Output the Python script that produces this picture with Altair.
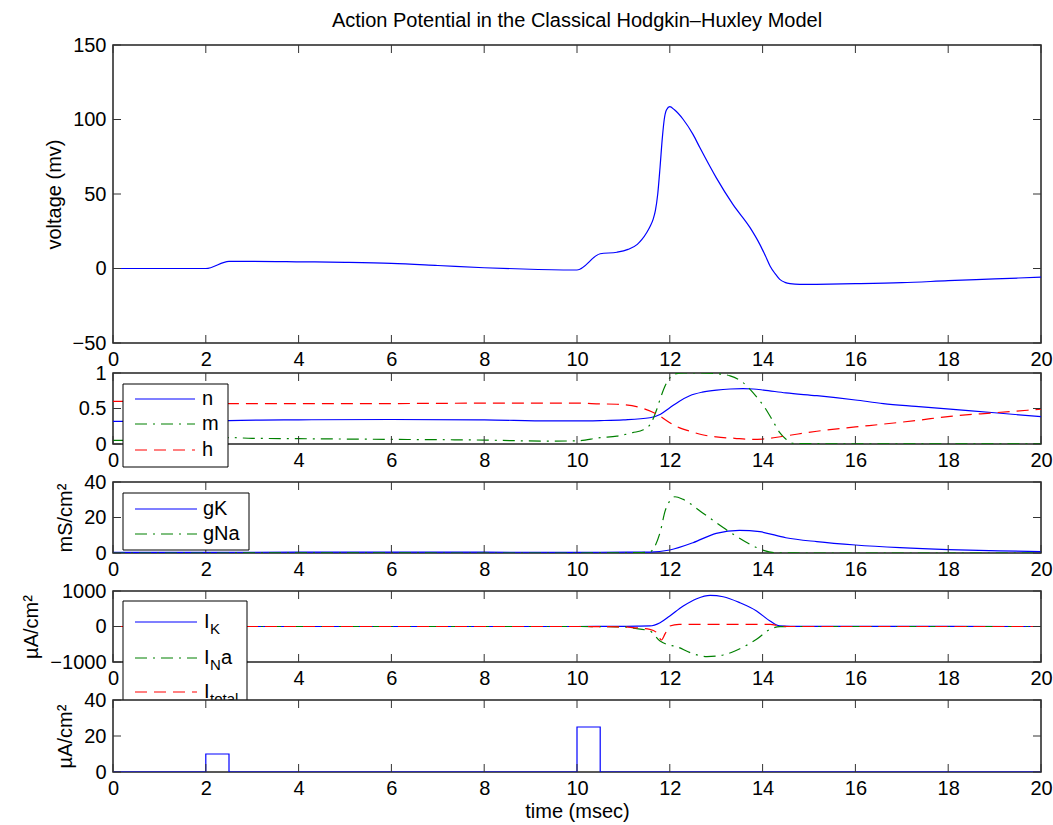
import altair as alt
import pandas as pd

FONT = "Liberation Sans"
FS = 20
W = 928
BLUE = "#0000ff"
GREEN = "#008000"
RED = "#ff0000"
DASH = [12, 7]
DASHDOT = [12, 6, 2, 6]

# ---------------- data ----------------
x_ticks = [0, 2, 4, 6, 8, 10, 12, 14, 16, 18, 20]

# panel 1: membrane voltage (mV)
t_v = [0, 2, 2.5, 3, 4, 5, 6, 7, 8, 9, 10, 10.5, 10.86, 11.1, 11.3, 11.4, 11.5,
       11.58, 11.64, 11.69, 11.74, 11.79, 11.84, 11.88, 11.93, 12.0, 12.1, 12.29,
       12.5, 12.65, 13.0, 13.36, 13.73, 13.94, 14.06, 14.16, 14.27, 14.37, 14.48,
       14.59, 14.8, 15.16, 16, 17, 18, 19, 20]
v = [0, 0, 4.8, 4.8, 4.5, 4.1, 3.4, 2.0, 0.5, -0.5, -1.0, 9.9, 10.9, 12.8, 16.2,
     19.5, 24, 28.5, 33, 39, 50, 68, 88, 100, 106.5, 108.6, 106.5, 100, 90, 81,
     61, 43, 27.4, 16.2, 8.5, 1.7, -3.5, -7.3, -9.3, -10.2, -10.7, -10.6, -10.2,
     -9.5, -8.2, -7.0, -5.8]
v_ticks = [-50, 0, 50, 100, 150]

# panel 2: gating variables
t_n = [0, 2, 2.5, 4, 6, 8, 9.42, 10, 10.5, 11, 11.57, 11.8, 12.0, 12.2, 12.43,
       12.7, 13.01, 13.3, 13.58, 13.8, 14.02, 14.5, 15.17, 16, 16.6, 17.3, 18.04,
       19, 20]
n = [0.32, 0.32, 0.33, 0.34, 0.345, 0.34, 0.325, 0.325, 0.33, 0.34, 0.37, 0.42,
     0.51, 0.6, 0.68, 0.73, 0.76, 0.775, 0.78, 0.775, 0.76, 0.72, 0.68, 0.62,
     0.57, 0.53, 0.49, 0.44, 0.385]
t_m = [0, 2, 2.5, 3, 4, 6, 8, 9.4, 10, 10.5, 10.86, 11.2, 11.43, 11.6, 11.72,
       11.8, 11.9, 12.0, 12.07, 12.3, 12.65, 13.0, 13.3, 13.55, 13.73, 13.9,
       14.02, 14.2, 14.37, 14.5, 14.66, 15, 16, 18, 20]
m = [0.05, 0.05, 0.09, 0.08, 0.075, 0.065, 0.055, 0.04, 0.045, 0.09, 0.11, 0.16,
     0.2, 0.3, 0.49, 0.65, 0.82, 0.93, 0.98, 1.0, 1.0, 0.99, 0.96, 0.88, 0.77,
     0.64, 0.54, 0.35, 0.16, 0.07, 0.01, 0.005, 0.003, 0.003, 0.004]
t_h = [0, 2, 2.5, 4, 6, 8, 9.42, 10, 10.5, 10.86, 11.43, 11.72, 12.0, 12.2, 12.43,
       12.7, 13.0, 13.4, 13.73, 14.0, 14.45, 15.17, 16, 16.6, 17.3, 18.04, 19, 20]
h = [0.6, 0.6, 0.57, 0.57, 0.57, 0.575, 0.575, 0.575, 0.565, 0.56, 0.5, 0.42, 0.3,
     0.23, 0.18, 0.13, 0.10, 0.08, 0.066, 0.07, 0.11, 0.18, 0.24, 0.28, 0.33,
     0.39, 0.44, 0.49]
gate_ticks = [0, 0.5, 1]

# panel 3: conductances (mS/cm^2)
t_gk = [0, 2, 4, 6, 8, 10, 10.5, 11.57, 12.0, 12.5, 13.0, 13.5, 13.94, 14.5,
        15.17, 16.0, 16.96, 18.0, 19.1, 20]
gk = [0.4, 0.4, 0.45, 0.48, 0.45, 0.4, 0.42, 0.5, 1.7, 5.8, 11.1, 12.8, 12.0, 8.6,
      6.4, 4.5, 3.0, 1.9, 1.2, 0.8]
t_gna = [0, 2, 4, 6, 8, 10, 10.5, 11.3, 11.57, 11.68, 11.79, 11.9, 12.0, 12.11,
         12.29, 12.65, 13.0, 13.37, 13.73, 14.02, 14.3, 15, 20]
gna = [0.01, 0.01, 0.03, 0.02, 0.01, 0.01, 0.05, 0.2, 0.6, 3.9, 11.5, 23.7, 29.3,
       31.7, 30.2, 23.7, 17.1, 10.5, 4.9, 1.5, 0.1, 0.0, 0.0]
g_ticks = [0, 20, 40]

# panel 4: ionic currents (uA/cm^2)
t_ik = [0, 2, 10, 11, 11.3, 11.57, 11.79, 12.0, 12.29, 12.58, 12.87, 13.15, 13.51,
        13.87, 14.16, 14.37, 14.6, 20]
ik = [0, 0, 0, 5, 8, 15, 107, 296, 577, 783, 878, 839, 670, 437, 155, 15, 5, 0]
t_ina = [0, 2, 10, 11, 11.21, 11.57, 11.79, 11.93, 12.15, 12.44, 12.8, 13.15,
         13.51, 13.87, 14.16, 14.37, 14.6, 20]
ina = [0, 0, 0, -10, -50, -127, -408, -500, -568, -737, -850, -803, -625, -361,
       -79, -5, 0, 0]
t_itot = [0, 2, 10, 11, 11.21, 11.57, 11.72, 11.82, 11.9, 12.0, 12.2, 13.0, 14.16,
          14.37, 14.6, 20]
itot = [0, 0, 0, -10, -30, -80, -174, -380, -200, 15, 60, 62, 60, 15, 0, 0]
i_ticks = [-1000, 0, 1000]

# panel 5: stimulus current (uA/cm^2)
t_s = [0, 2, 2, 2.5, 2.5, 10, 10, 10.5, 10.5, 20]
stim = [0, 0, 10, 10, 0, 0, 25, 25, 0, 0]
s_ticks = [0, 20, 40]

# ---------------- helpers ----------------
XS = alt.Scale(domain=[0, 20], nice=False, zero=False)


def x_axis(title=None, hide_two=False):
    kw = dict(values=x_ticks, ticks=False, domain=False, grid=False,
              labelPadding=6, labelFlush=False, labelOverlap=False,
              labelFontSize=FS, labelFont=FONT, labelColor="black",
              format="d")
    if hide_two:
        # the legend box covers this label in the reference
        kw["labelExpr"] = "datum.value == 2 ? '' : datum.label"
    if title:
        kw.update(title=title, titleFontSize=FS, titleFont=FONT,
                  titleFontWeight="normal", titleColor="black", titlePadding=3)
    else:
        kw.update(title=None)
    return alt.Axis(**kw)


def y_axis(vals, title=None, fmt="d"):
    kw = dict(values=vals, ticks=False, domain=False, grid=False,
              labelPadding=7, labelFlush=False, labelOverlap=False,
              labelFontSize=FS, labelFont=FONT, labelColor="black", format=fmt)
    if title:
        kw.update(title=title, titleFontSize=FS, titleFont=FONT,
                  titleFontWeight="normal", titleColor="black", titlePadding=8)
    else:
        kw.update(title=None)
    return alt.Axis(**kw)


def series(tt, vv, color, dash, ys, xa, ya):
    df = pd.DataFrame({"t": tt, "val": vv})
    kw = dict(color=color, strokeWidth=1.2, clip=True, interpolate="monotone")
    if dash:
        kw["strokeDash"] = dash
    return alt.Chart(df).mark_line(**kw).encode(
        x=alt.X("t:Q", scale=XS, axis=xa),
        y=alt.Y("val:Q", scale=ys, axis=ya),
    )


def inner_ticks(ys, yvals, H, xa, ya):
    dfx = pd.DataFrame({"t": x_ticks})
    dfy = pd.DataFrame({"val": yvals})
    L = 8
    kw = dict(color="#333333", strokeWidth=1)
    bot = alt.Chart(dfx).mark_rule(**kw).encode(
        x=alt.X("t:Q", scale=XS, axis=xa), y=alt.value(H), y2=alt.value(H - L))
    top = alt.Chart(dfx).mark_rule(**kw).encode(
        x=alt.X("t:Q", scale=XS, axis=xa), y=alt.value(0), y2=alt.value(L))
    left = alt.Chart(dfy).mark_rule(**kw).encode(
        y=alt.Y("val:Q", scale=ys, axis=ya), x=alt.value(0), x2=alt.value(L))
    right = alt.Chart(dfy).mark_rule(**kw).encode(
        y=alt.Y("val:Q", scale=ys, axis=ya), x=alt.value(W - L), x2=alt.value(W))
    return [bot, top, left, right]


ONE = pd.DataFrame({"k": [0]})


def legend(box, rows):
    """box = (x1, y1, x2, y2) in pixels; rows = list of (y, color, dash, parts, xline)"""
    layers = [alt.Chart(ONE).mark_rect(fill="white", stroke="black", strokeWidth=1).encode(
        x=alt.value(box[0]), x2=alt.value(box[2]), y=alt.value(box[1]), y2=alt.value(box[3]))]
    for (yy, color, dash, parts, xl) in rows:
        kw = dict(color=color, strokeWidth=1.2)
        if dash:
            kw["strokeDash"] = dash
        layers.append(alt.Chart(ONE).mark_rule(**kw).encode(
            x=alt.value(xl[0]), x2=alt.value(xl[1]), y=alt.value(yy)))
        for (txt, xx, size, dy) in parts:
            layers.append(alt.Chart(ONE).mark_text(
                align="left", baseline="middle", fontSize=size, font=FONT,
                color="black", dy=dy).encode(
                x=alt.value(xx), y=alt.value(yy), text=alt.value(txt)))
    return layers


def panel(H, ys, yvals, lines, leg_layers, ytitle=None, xtitle=None,
          hide_two=False, yfmt="d"):
    xa = x_axis(xtitle, hide_two)
    ya = y_axis(yvals, ytitle, yfmt)
    ls = [series(tt, vv, c, d, ys, xa, ya) for (tt, vv, c, d) in lines]
    layers = ls + inner_ticks(ys, yvals, H, xa, ya) + leg_layers
    return alt.layer(*layers).properties(width=W, height=H)


p1 = panel(298, alt.Scale(domain=[-50, 150], nice=False), v_ticks,
           [(t_v, v, BLUE, None)], [], ytitle="voltage (mv)")

p2 = panel(71, alt.Scale(domain=[0, 1], nice=False), gate_ticks,
           [(t_n, n, BLUE, None), (t_m, m, GREEN, DASHDOT), (t_h, h, RED, DASH)],
           legend((10, 11, 115, 94),
                  [(26, BLUE, None, [("n", 89, FS, 0)], (22, 82)),
                   (51, GREEN, DASHDOT, [("m", 89, FS, 0)], (22, 82)),
                   (77, RED, DASH, [("h", 89, FS, 0)], (22, 82))]),
           hide_two=True, yfmt=".1~f")

p3 = panel(71, alt.Scale(domain=[0, 40], nice=False), g_ticks,
           [(t_gk, gk, BLUE, None), (t_gna, gna, GREEN, DASHDOT)],
           legend((10, 11, 136, 68),
                  [(27, BLUE, None, [("gK", 90, FS, 0)], (22, 84)),
                   (52, GREEN, DASHDOT, [("gNa", 90, FS, 0)], (22, 84))]),
           ytitle="mS/cm²")

p4 = panel(71, alt.Scale(domain=[-1000, 1000], nice=False), i_ticks,
           [(t_ik, ik, BLUE, None), (t_ina, ina, GREEN, DASHDOT),
            (t_itot, itot, RED, DASH)],
           legend((10, 10, 134, 132),
                  [(31, BLUE, None, [("I", 91, FS, 0), ("K", 97, 15, 7)], (22, 84)),
                   (67, GREEN, DASHDOT, [("I", 91, FS, 0), ("N", 97, 15, 7),
                                         ("a", 108, FS, 0)], (22, 84)),
                   (101, RED, DASH, [("I", 91, FS, 0), ("total", 97, 15, 7)], (22, 84))]),
           ytitle="µA/cm²", hide_two=True)

p5 = panel(72, alt.Scale(domain=[0, 40], nice=False), s_ticks,
           [(t_s, stim, BLUE, None)], [], ytitle="µA/cm²", xtitle="time (msec)")

lower = alt.vconcat(p2, p3, p4, p5, spacing=38, bounds="flush")
chart = alt.vconcat(p1, lower, spacing=30, bounds="flush").properties(
    title=alt.TitleParams("Action Potential in the Classical Hodgkin–Huxley Model",
                          fontSize=FS, font=FONT, fontWeight="normal", color="black",
                          anchor="middle", frame="group", offset=3),
    padding={"left": 21, "top": 11, "right": 0, "bottom": 2},
    background="white",
).configure_view(fill="white", stroke="#222222", strokeWidth=1.5)

chart.save("out.html", embed_options={"renderer": "svg", "actions": False})
